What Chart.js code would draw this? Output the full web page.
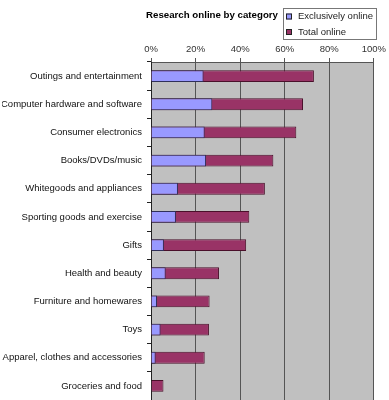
<!DOCTYPE html>
<html>
<head>
<meta charset="utf-8">
<script src="https://cdn.jsdelivr.net/npm/chart.js@4"></script>
<style>
  html, body { margin: 0; padding: 0; background: #fff; }
  .chart-box { position: relative; width: 389px; height: 400px; }
</style>
</head>
<body>
<div class="chart-box"><canvas id="chart"></canvas></div>
<script>
const chartTitle = "Research online by category";
const categories = [
  "Outings and entertainment",
  "Computer hardware and software",
  "Consumer electronics",
  "Books/DVDs/music",
  "Whitegoods and appliances",
  "Sporting goods and exercise",
  "Gifts",
  "Health and beauty",
  "Furniture and homewares",
  "Toys",
  "Apparel, clothes and accessories",
  "Groceries and food",
];
const exclusivelyOnline = [23.6, 27.5, 24.1, 24.7, 12.1, 11.2, 5.8, 6.6, 2.7, 4.3, 2.1, 0];
const totalOnline = [73.1, 68.2, 65.2, 54.9, 51.1, 44.1, 42.7, 30.5, 26.3, 26.0, 24.1, 5.6];
const xTicks = [0, 20, 40, 60, 80, 100];

const FONT = "'Liberation Sans', Arial, sans-serif";
const SIZE = 9.5;

// grey plot area like the old Excel charts
const plotBackground = {
  id: "plotBackground",
  beforeDraw(chart) {
    const { ctx, chartArea } = chart;
    ctx.save();
    ctx.fillStyle = "#c0c0c0";
    ctx.fillRect(chartArea.left, chartArea.top, chartArea.right - chartArea.left, chartArea.bottom - chartArea.top);
    ctx.restore();
  },
};

// title plus boxed legend up in the top right corner
const header = {
  id: "header",
  afterDraw(chart) {
    const ctx = chart.ctx;
    ctx.save();
    ctx.fillStyle = "#000";
    ctx.font = "bold 9.7px " + FONT;
    ctx.textAlign = "center";
    ctx.textBaseline = "middle";
    ctx.fillText(chartTitle, 212, 15);

    ctx.fillStyle = "#fff";
    ctx.fillRect(283, 8, 93, 31);
    ctx.strokeStyle = "#777";
    ctx.lineWidth = 1;
    ctx.strokeRect(283.5, 8.5, 93, 31);

    ctx.font = SIZE + "px " + FONT;
    ctx.textAlign = "left";
    chart.data.datasets.forEach((ds, i) => {
      const y = 16.5 + i * 15.5;
      ctx.fillStyle = ds.backgroundColor;
      ctx.fillRect(286, y - 3, 6, 6);
      ctx.strokeStyle = "#222";
      ctx.strokeRect(286.5, y - 2.5, 5, 5);
      ctx.fillStyle = "#222";
      ctx.fillText(ds.label, 298, y);
    });
    ctx.restore();
  },
};

new Chart(document.getElementById("chart"), {
  type: "bar",
  data: {
    labels: categories,
    datasets: [
      {
        label: "Exclusively online",
        data: exclusivelyOnline,
        backgroundColor: "#9999ff",
        borderColor: "#30305a",
        borderWidth: 1,
      },
      {
        label: "Total online",
        data: totalOnline,
        backgroundColor: "#993366",
        borderColor: "#4a0f2a",
        borderWidth: 1,
      },
    ],
  },
  options: {
    indexAxis: "y",
    responsive: true,
    maintainAspectRatio: false,
    animation: false,
    datasets: {
      bar: { categoryPercentage: 1, barPercentage: 0.42 },
    },
    layout: { padding: { left: 2, right: 15, top: 0, bottom: 0 } },
    scales: {
      x: {
        position: "top",
        min: 0,
        max: 100,
        afterBuildTicks: (scale) => {
          scale.ticks = xTicks.map((v) => ({ value: v }));
        },
        afterFit: (scale) => {
          scale.height = 62;
        },
        grid: { color: "#555", tickLength: 4 },
        border: { color: "#555" },
        ticks: {
          color: "#333",
          font: { family: FONT, size: SIZE },
          padding: 3,
          callback: (v) => v + "%",
        },
      },
      y: {
        stacked: true,
        afterFit: (scale) => {
          scale.width = 149;
          // let the plot run down to the bottom edge
          scale.paddingTop = 0;
          scale.paddingBottom = 0;
        },
        grid: { drawOnChartArea: false, color: "#222", tickLength: 4 },
        border: { color: "#222" },
        ticks: {
          color: "#111",
          font: { family: FONT, size: SIZE },
          padding: 5,
          autoSkip: false,
        },
      },
    },
    plugins: {
      legend: { display: false },
      title: { display: false },
      tooltip: { enabled: false },
    },
  },
  plugins: [plotBackground, header],
});
</script>
</body>
</html>
